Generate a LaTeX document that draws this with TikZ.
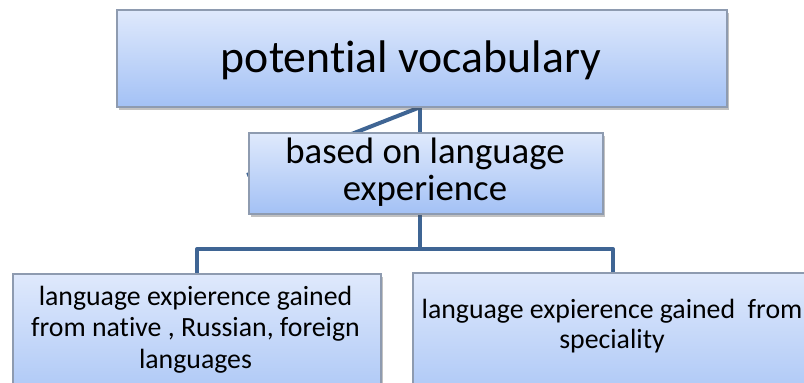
\documentclass[tikz,border=0pt]{standalone}
\usepackage{fontspec}
\setmainfont{Carlito}[Ligatures={NoCommon}]
\usetikzlibrary{shadows}
\definecolor{boxtop}{HTML}{DFE9FC}
\definecolor{boxbot}{HTML}{A3C1F5}
\definecolor{boxline}{HTML}{8E9BB0}
\definecolor{connc}{HTML}{3F6594}
\tikzset{
  box/.style={draw=boxline, line width=1.5pt, top color=boxtop, bottom color=boxbot,
    drop shadow={shadow xshift=2pt, shadow yshift=-3pt, opacity=0.35, fill=black!70},
    inner sep=0pt, outer sep=0pt},
  conn/.style={draw=connc, line width=4pt, line join=round},
  lbl/.style={inner sep=0pt, align=center, anchor=base, text=black},
}
\begin{document}
\begin{tikzpicture}[x=1pt, y=-1pt]
\useasboundingbox (0,0) rectangle (804,383);
% junction coordinates
\coordinate (j1) at (420,249);
\coordinate (jl) at (197,249);
\coordinate (jr) at (613,249);
\coordinate (hid) at (247,175);
% box positions
\path (422,58.5) node[minimum width=610pt, minimum height=97pt, inner sep=0pt] (top) {};
\path (426,173.5) node[minimum width=354pt, minimum height=81pt, inner sep=0pt] (mid) {};
\path (197,347) node[minimum width=368pt, minimum height=146pt, inner sep=0pt] (left) {};
\path (633,347) node[minimum width=440pt, minimum height=148pt, inner sep=0pt] (right) {};
% connectors
\draw[conn] (top.south -| j1) -- (mid.north -| j1);
\draw[conn] (top.south -| j1) -- (hid);
\draw[conn] (mid.south -| j1) -- (j1);
\draw[conn] (left.north -| jl) -- (jl) -- (jr) -- (right.north -| jr);
% boxes
\node[box, minimum width=610pt, minimum height=97pt] (topbox) at (top) {};
\node[box, minimum width=354pt, minimum height=81pt] (midbox) at (mid) {};
\node[box, minimum width=368pt, minimum height=146pt] (leftbox) at (left) {};
\node[box, minimum width=440pt, minimum height=148pt] (rightbox) at (right) {};
% texts (base anchor = baseline of last line)
\node[lbl, font=\fontsize{45.7}{50}\selectfont] (toptext) at (411,72) {potential vocabulary};
\node[lbl, font=\fontsize{36.8}{37}\selectfont] (midtext) at (425,200) {based on language\\experience};
\node[lbl, font=\fontsize{27.8}{31.5}\selectfont] (lefttext) at (195.5,368) {language expierence gained\\from native , Russian, foreign\\languages};
\node[lbl, font=\fontsize{27.8}{30}\selectfont] (righttext) at (612,348) {language expierence gained~~from\\speciality};
\end{tikzpicture}
\end{document}
